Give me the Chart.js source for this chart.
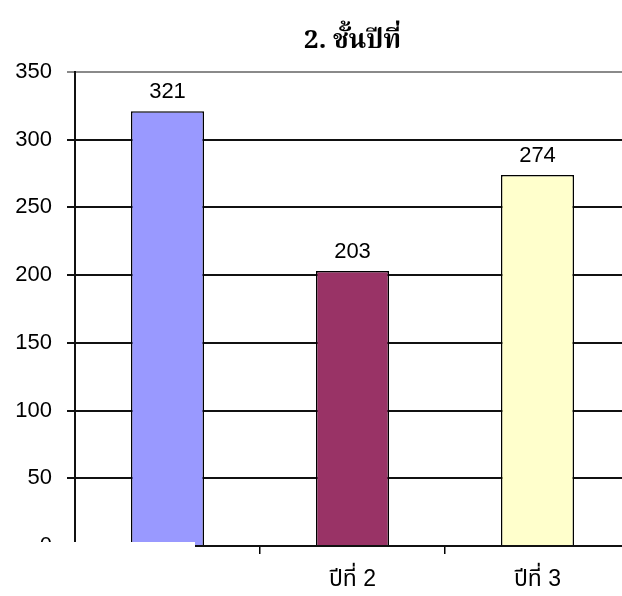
<!DOCTYPE html>
<html>
<head>
<meta charset="utf-8">
<script src="https://cdn.jsdelivr.net/npm/chart.js@4/dist/chart.umd.min.js"></script>
<style>
  html, body { margin:0; padding:0; background:#fff; overflow:hidden; }
  #wrap { position:relative; width:630px; height:596px; }
</style>
</head>
<body>
<div id="wrap"><canvas id="chart"></canvas></div>
<script>
// chart data
const categories = ['ปีที่ 1', 'ปีที่ 2', 'ปีที่ 3'];
const counts = [321, 203, 274];
const barColors = ['#9999FF', '#993366', '#FFFFCC'];
const yTicks = [0, 50, 100, 150, 200, 250, 300, 350];
const titleText = '2. ชั้นปีที่';

const titleFont = "'Noto Serif Thai', 'Noto Sans Thai', 'Liberation Serif', serif";
const thaiSans = "'Liberation Sans', 'Noto Sans Thai', Arial, sans-serif";
const numFont = "'Liberation Sans', Arial, sans-serif";

// value labels above bars
const valueLabels = {
  id: 'valueLabels',
  afterDatasetsDraw(chart){
    const ctx = chart.ctx;
    const meta = chart.getDatasetMeta(0);
    ctx.save();
    ctx.font = '22px ' + numFont;
    ctx.fillStyle = '#000';
    ctx.textAlign = 'center';
    ctx.textBaseline = 'middle';
    meta.data.forEach((bar, i)=>{
      ctx.fillText(String(counts[i]), bar.x, bar.y - 19);
    });
    ctx.restore();
  }
};

// white patch over the lower-left corner, as in the source image
const cornerPatch = {
  id: 'cornerPatch',
  afterDraw(chart){
    const ctx = chart.ctx;
    ctx.save();
    ctx.fillStyle = '#fff';
    ctx.fillRect(0, 542, 195, 60);
    ctx.restore();
  }
};

new Chart(document.getElementById('chart'), {
  type: 'bar',
  data: {
    labels: categories,
    datasets: [{
      data: counts,
      backgroundColor: barColors,
      borderColor: '#000',
      borderWidth: 1.5,
      barPercentage: 0.395,
      categoryPercentage: 1
    }]
  },
  options: {
    responsive: true,
    maintainAspectRatio: false,
    animation: false,
    layout: { padding: 0 },
    plugins: {
      legend: { display: false },
      tooltip: { enabled: false },
      title: {
        display: true,
        text: titleText,
        fullSize: false,
        color: '#000',
        font: { family: titleFont, size: 26, weight: 'bold', lineHeight: 1.2 },
        padding: { top: 28, bottom: 12.8 }
      }
    },
    scales: {
      x: {
        offset: true,
        grid: { offset: true, drawOnChartArea: false, color: '#000', lineWidth: 1.5, tickLength: 8 },
        border: { color: '#111', width: 2 },
        ticks: { color: '#000', padding: 12, maxRotation: 0, font: { family: thaiSans, size: 23 } },
        afterFit(s){ s.height = 50; }
      },
      y: {
        min: 0,
        max: 350,
        afterBuildTicks(s){ s.ticks = yTicks.map(v=>({ value: v })); },
        grid: {
          color: c => (c.tick && c.tick.value === 350) ? '#8a8a8a' : '#111',
          lineWidth: 2,
          tickLength: 8
        },
        border: { color: '#111', width: 2 },
        ticks: { color: '#000', padding: 15, font: { family: numFont, size: 22 } },
        afterFit(s){ s.width = 75; }
      }
    }
  },
  plugins: [valueLabels, cornerPatch]
});
</script>
</body>
</html>
